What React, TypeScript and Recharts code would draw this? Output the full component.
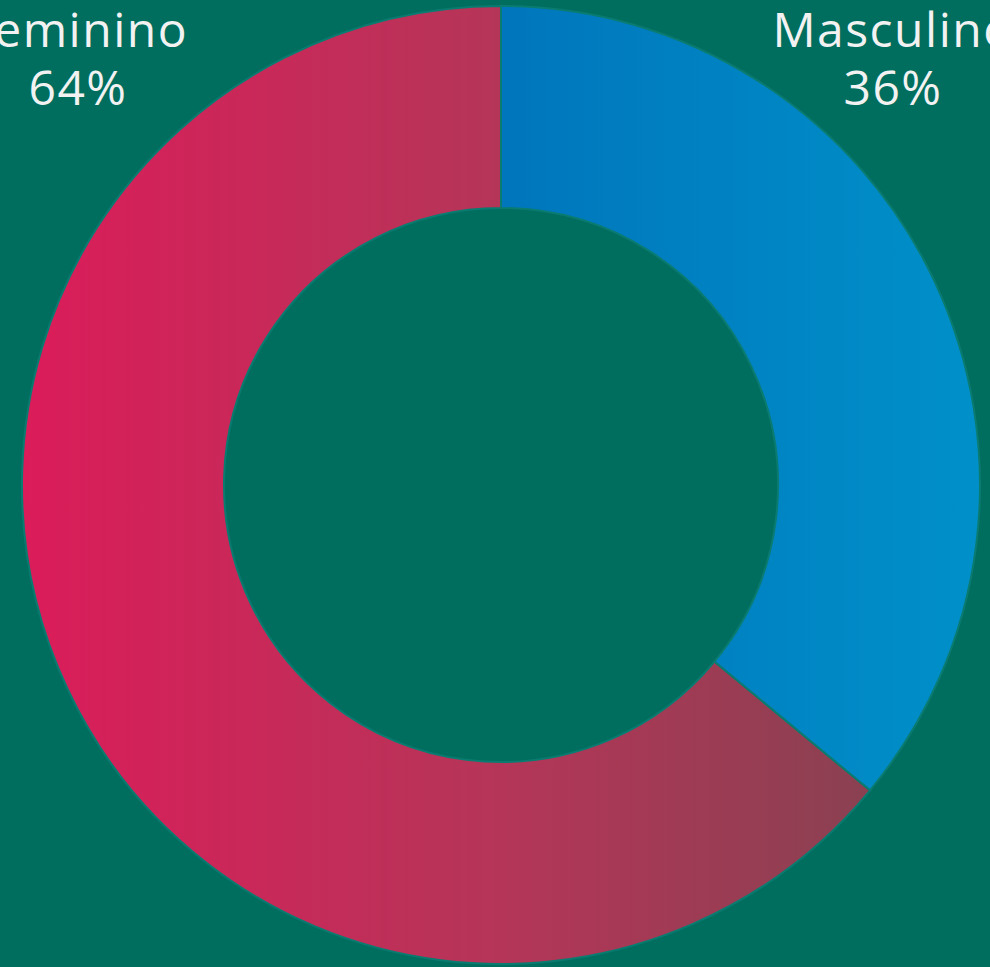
import React from 'react';
import { PieChart, Pie, Cell } from 'recharts';

const categories = ['Feminino', 'Masculino'];
const values = [64, 36];
const percentLabels = ['64%', '36%'];

const data = categories.map((name, i) => ({ name, value: values[i] }));

const labelStyle: React.CSSProperties = {
  position: 'absolute',
  top: 0,
  width: 300,
  textAlign: 'center',
  color: '#f2f2f2',
  fontFamily: '"Open Sans", sans-serif',
  fontSize: 48,
  letterSpacing: 1.5,
  lineHeight: '58px',
  whiteSpace: 'nowrap',
};

const App: React.FC = () => {
  return (
    <div
      style={{
        position: 'absolute',
        top: 0,
        left: 0,
        width: 990,
        height: 967,
        overflow: 'hidden',
        background: '#006e5e',
      }}
    >
      <PieChart width={990} height={967} margin={{ top: 0, right: 0, bottom: 0, left: 0 }}>
        <defs>
          <linearGradient id="gradFem" x1="0" y1="0" x2="1" y2="0">
            <stop offset="0%" stopColor="#db1c5a" />
            <stop offset="55%" stopColor="#b63558" />
            <stop offset="100%" stopColor="#8a4151" />
          </linearGradient>
          <linearGradient id="gradMas" x1="0" y1="0" x2="1" y2="0">
            <stop offset="0%" stopColor="#0076bc" />
            <stop offset="100%" stopColor="#0090c9" />
          </linearGradient>
        </defs>
        <Pie
          data={data}
          dataKey="value"
          nameKey="name"
          cx={501}
          cy={485}
          innerRadius={277}
          outerRadius={479}
          startAngle={-270}
          endAngle={90}
          stroke="#0a7b70"
          strokeWidth={2}
          isAnimationActive={false}
        >
          <Cell fill="url(#gradFem)" />
          <Cell fill="url(#gradMas)" />
        </Pie>
      </PieChart>
      <div style={{ ...labelStyle, left: 78 - 150, top: 0 }}>
        <div>{categories[0]}</div>
        <div>{percentLabels[0]}</div>
      </div>
      <div style={{ ...labelStyle, left: 893 - 150, top: 0 }}>
        <div>{categories[1]}</div>
        <div>{percentLabels[1]}</div>
      </div>
    </div>
  );
};

export default App;
